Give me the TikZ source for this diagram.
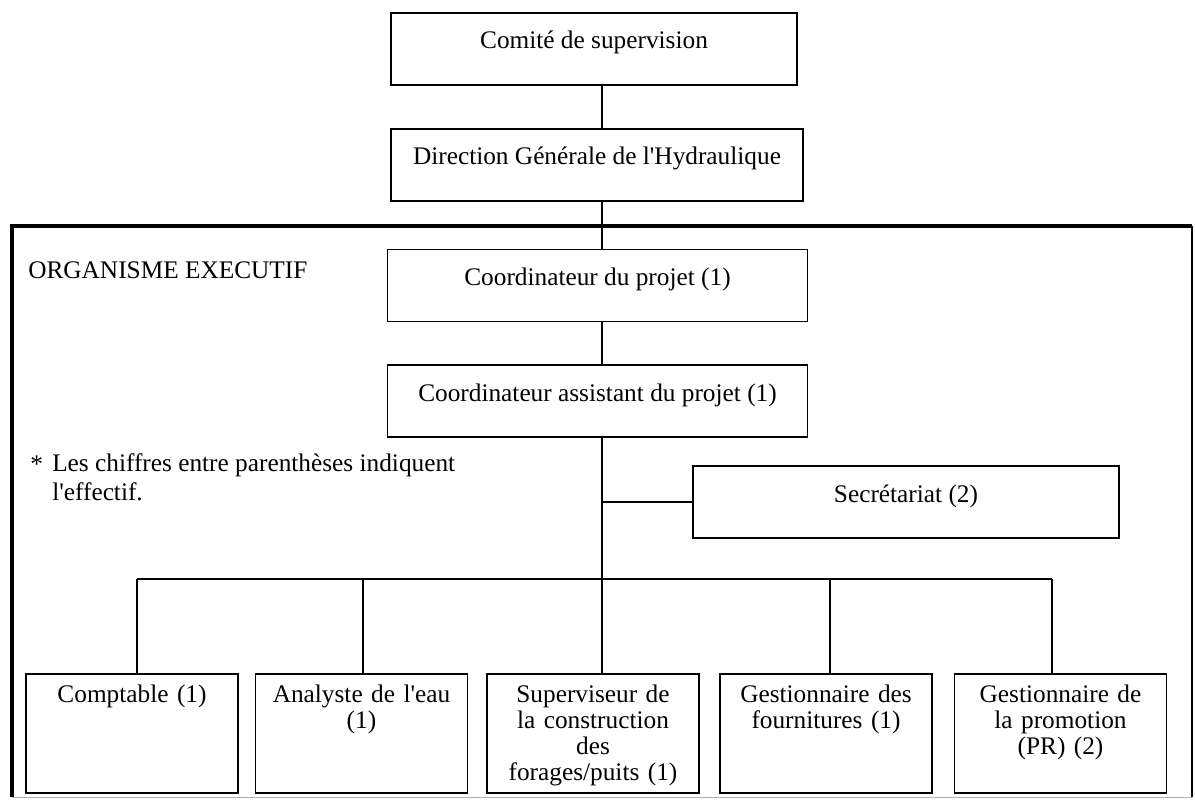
\documentclass[tikz,border=0pt]{standalone}
\usepackage{fontspec}
\setmainfont{Liberation Serif}
\usepackage{tikz}

\begin{document}
\begin{tikzpicture}[x=0.025cm, y=-0.025cm,
  every node/.style={font=\fontsize{18}{18.3}\selectfont},
  box/.style={draw, line width=1.3pt, inner sep=0pt, text height=0.9cm, text depth=0.9cm},
  unit/.style={draw, line width=1.3pt, inner sep=0pt, anchor=north, align=center,
    text width=5cm, minimum width=5.3cm, text height=0.725cm, text depth=2.25cm},
  link/.style={line width=1.5pt}]

\useasboundingbox (0,0) rectangle (1195,800);

% organisme executif
\draw[line width=2.4pt] (1192,226) -- (12,226) -- (12,797);
\draw[line width=1.2pt] (1192,226) -- (1192,797);
\draw[line width=0.6pt, gray!60] (12,797) -- (1192,797);

\node[box, minimum width=10.15cm] (comite) at (594,49) {Comité de supervision};
\node[box, minimum width=10.3cm] (direction) at (597,165) {Direction Générale de l\textquotesingle Hydraulique};
\node[box, minimum width=10.5cm] (coord) at (597.5,285.5) {Coordinateur du projet (1)};
\node[box, minimum width=10.5cm] (assistant) at (597.5,401) {Coordinateur assistant du projet (1)};
\node[box, minimum width=10.65cm] (secretariat) at (906,502) {Secrétariat (2)};

\node[anchor=base west, inner sep=0pt] (titre) at (28,278) {ORGANISME EXECUTIF};
\node[anchor=base west, inner sep=0pt] (etoile) at (30,472) {*};
\node[anchor=base west, inner sep=0pt, align=left, font=\fontsize{18}{20}\selectfont] (note) at (52,500)
  {Les chiffres entre parenthèses indiquent\\l\textquotesingle effectif.};

\node[unit] (comptable) at (132,673) {Comptable (1)};
\node[unit] (analyste) at (361.5,673) {Analyste de l\textquotesingle eau\\(1)};
\node[unit] (superviseur) at (593,673) {Superviseur de\\la construction\\des\\forages/puits (1)};
\node[unit] (fournitures) at (826,673) {Gestionnaire des\\fournitures (1)};
\node[unit] (promotion) at (1060.5,673) {Gestionnaire de\\la promotion\\(PR) (2)};

% liaisons
\coordinate (b1) at (137,579);
\coordinate (b2) at (363,579);
\coordinate (b3) at (602,579);
\coordinate (b4) at (830,579);
\coordinate (b5) at (1052,579);

\draw[link] (comite.south -| b3) -- (direction.north -| b3);
\draw[link] (direction.south -| b3) -- (coord.north -| b3);
\draw[link] (coord.south -| b3) -- (assistant.north -| b3);
\draw[link] (assistant.south -| b3) -- (superviseur.north -| b3);
\draw[link] (secretariat.west) -- (secretariat.west -| b3);
\draw[link] (b1) -- (b5);
\foreach \n/\b in {comptable/b1, analyste/b2, fournitures/b4, promotion/b5}
  \draw[link] (\b) -- (\n.north -| \b);
\end{tikzpicture}
\end{document}
